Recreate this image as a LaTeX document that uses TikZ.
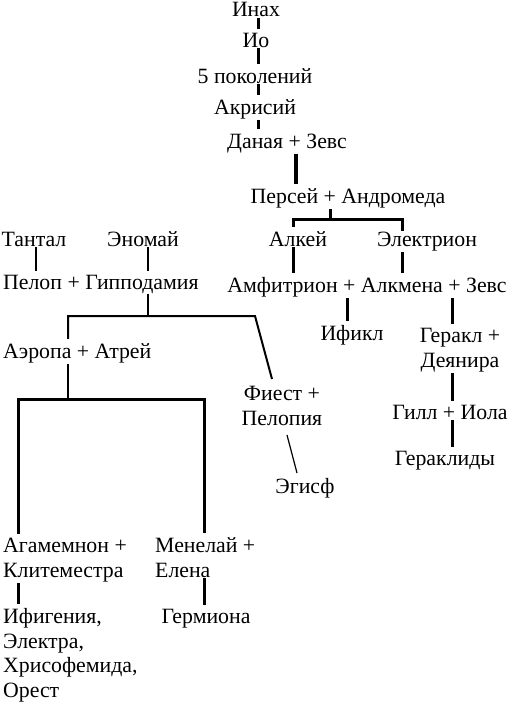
\documentclass[tikz,border=0pt]{standalone}
\usepackage{fontspec}
\setmainfont{Liberation Serif}
\newfontfamily\genfont{Liberation Serif}
\usetikzlibrary{positioning}
\begin{document}
\begin{tikzpicture}[x=1pt, y=-1pt,
    every node/.style={font=\genfont\fontsize{21.8}{24.5}\selectfont, inner sep=0pt, anchor=base},
    lft/.style={anchor=base west, align=left},
    ctr/.style={align=center},
    ln/.style={line width=2pt},
    lnb/.style={line width=3pt},
    lnh/.style={line width=4pt},
    lnd/.style={line width=1.2pt},
    gap/.style={shorten <=1pt, shorten >=4pt}
]
    \useasboundingbox (0,0) rectangle (510,702);

    % ===== Inachus line =====
    \node (inah) at (256, 16.5) {Инах};
    \node (io)   at (256, 47)  {Ио};
    \node (pok)  at (255, 83)  {5 поколений};
    \node (akr)  at (255, 114) {Акрисий};
    \node (dz)   at (287, 148) {Даная + Зевс};
    \node (ps)   at (348, 203) {Персей + Андромеда};
    \coordinate (xi) at (258, 0);
    \draw[lnb, gap] (inah.south -| xi) -- (io.north -| xi);
    \draw[lnb, gap] (io.south -| xi) -- (pok.north -| xi);
    \draw[lnb, gap] (pok.south -| xi) -- (akr.north -| xi);
    \draw[lnb, gap] (akr.south -| xi) -- (dz.north -| xi);
    \coordinate (xd) at (296, 0);
    \draw[lnh, gap] (dz.south -| xd) -- (ps.north -| xd);

    % ===== Perseids =====
    \node (alk) at (298, 246) {Алкей};
    \node (el)  at (427, 246) {Электрион};
    \node (amf) at (367, 292) {Амфитрион + Алкмена + Зевс};
    \node (ifk) at (352, 340) {Ификл};
    \node[ctr] (ger) at (460, 367) {Геракл +\\Деянира};
    \node (gil) at (450, 419) {Гилл + Иола};
    \node (grd) at (445, 465) {Гераклиды};
    \coordinate (jp)  at (330, 219);
    \coordinate (jpl) at (293, 219);
    \coordinate (jpr) at (402, 219);
    \draw[lnb, shorten <=1pt] (ps.south -| jp) -- (jp);
    \draw[lnb, shorten <=4pt] (alk.north -| jpl) |- (jp) -| (el.north -| jpr);
    \draw[lnb, gap] (alk.south -| jpl) -- (amf.north -| jpl);
    \draw[lnb, gap] (el.south -| jpr) -- (amf.north -| jpr);
    \coordinate (xf) at (347, 0);
    \coordinate (xg) at (452, 0);
    \draw[lnb, gap] (amf.south -| xf) -- (ifk.north -| xf);
    \draw[lnb, gap] (amf.south -| xg) -- (ger.north -| xg);
    \draw[lnb, gap] (ger.south -| xg) -- (gil.north -| xg);
    \draw[lnb, gap] (gil.south -| xg) -- (grd.north -| xg);

    % ===== Tantalids =====
    \node (tan) at (34, 246)  {Тантал};
    \node (eno) at (143, 246) {Эномай};
    \node[lft] (pel) at (3, 289) {Пелоп + Гипподамия};
    \node[lft] (aer) at (3, 358) {Аэропа + Атрей};
    \node[ctr] (fie) at (282, 425) {Фиест +\\Пелопия};
    \node (egi) at (305, 493) {Эгисф};
    \coordinate (xt) at (36, 0);
    \coordinate (xe) at (148, 0);
    \draw[ln, gap] (tan.south -| xt) -- (pel.north -| xt);
    \draw[ln, gap] (eno.south -| xe) -- (pel.north -| xe);
    \coordinate (jg)  at (148, 316);
    \coordinate (jgl) at (68, 316);
    \coordinate (jgr) at (255, 316);
    \draw[ln, shorten <=1pt] (pel.south -| jg) -- (jg);
    \draw[ln, shorten <=4pt] (aer.north -| jgl) |- (jgr) -- (272, 379);
    \draw[lnd] (287, 435) -- (297, 473);

    % ===== Atreids =====
    \node[lft] (aga) at (3, 577)   {Агамемнон +\\Клитеместра};
    \node[lft] (men) at (155, 577) {Менелай +\\Елена};
    \node[lft] (ifi) at (3, 697)   {Ифигения,\\Электра,\\Хрисофемида,\\Орест};
    \node (grm) at (206, 623) {Гермиона};
    \coordinate (ja)  at (68, 399);
    \coordinate (jal) at (18, 399);
    \coordinate (jar) at (204, 399);
    \draw[ln, shorten <=1pt] (aer.south -| ja) -- (ja);
    \draw[lnb, shorten <=4pt, shorten >=4pt] (aga.north -| jal) |- (ja) -| (men.north -| jar);
    \draw[lnb, gap] (aga.south -| jal) -- (ifi.north -| jal);
    \draw[lnb, gap] (men.south -| jar) -- (grm.north -| jar);
\end{tikzpicture}
\end{document}
